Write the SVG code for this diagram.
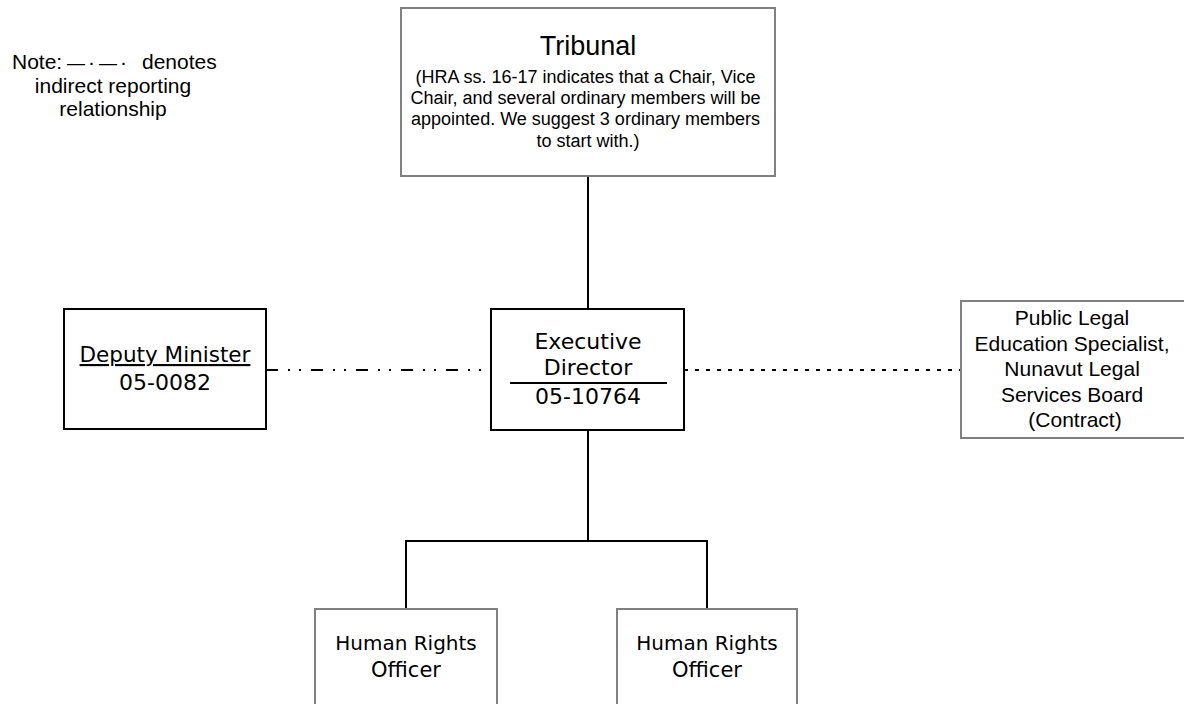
<svg xmlns="http://www.w3.org/2000/svg" width="1184" height="704" viewBox="0 0 1184 704">
<style>
.bg{fill:#ffffff}
.boxk{fill:#ffffff;stroke:#000000;stroke-width:2}
.boxg{fill:#ffffff;stroke:#808080;stroke-width:2}
.conn{fill:none;stroke:#000000;stroke-width:2}
.dashdot{fill:none;stroke:#000000;stroke-width:2;stroke-dasharray:12 10 2 9 2 10}
.dot{fill:none;stroke:#000000;stroke-width:2;stroke-dasharray:4 7}
.sans{font-family:"Liberation Sans",Arial,sans-serif;fill:#000000}
.hand{font-family:"DejaVu Sans",sans-serif;fill:#000000}
</style>
<rect class="bg" x="0" y="0" width="1184" height="704"/>

<g id="note">
<text class="sans" font-size="21" y="69">
<tspan x="12">Note:</tspan><tspan x="67" font-size="18">—</tspan><tspan x="88">·</tspan><tspan x="99" font-size="18">—</tspan><tspan x="120">·</tspan><tspan x="142">denotes</tspan>
</text>
<text class="sans" font-size="21" x="113" y="93" text-anchor="middle">indirect reporting</text>
<text class="sans" font-size="21" x="113" y="116" text-anchor="middle">relationship</text>
</g>

<g id="connectors">
<line class="conn" x1="588" y1="176" x2="588" y2="309"/>
<line class="dashdot" x1="266" y1="370" x2="491" y2="370"/>
<line class="dot" x1="684" y1="370" x2="961" y2="370"/>
<polyline class="conn" points="588,430 588,541"/>
<polyline class="conn" points="406,609 406,541 707,541 707,609"/>
</g>

<g id="tribunal">
<rect class="boxg" x="401" y="8" width="374" height="168"/>
<text class="sans" font-size="27" x="588" y="55" text-anchor="middle">Tribunal</text>
<text class="sans" font-size="18" text-anchor="middle">
<tspan x="588" y="83">(HRA ss. 16-17 indicates that a Chair, Vice</tspan>
<tspan x="588" y="104">Chair, and several ordinary members will be</tspan>
<tspan x="588" y="125">appointed. We suggest 3 ordinary members</tspan>
<tspan x="588" y="147">to start with.)</tspan>
</text>
</g>

<g id="deputy-minister">
<rect class="boxk" x="64" y="309" width="202" height="120"/>
<text class="hand" font-size="21.5" x="165" y="362" text-anchor="middle" text-decoration="underline">Deputy Minister</text>
<text class="hand" font-size="22" x="165" y="390" text-anchor="middle">05-0082</text>
</g>

<g id="executive-director">
<rect class="boxk" x="491" y="309" width="193" height="121"/>
<text class="hand" font-size="22" x="588" y="349" text-anchor="middle">Executive</text>
<text class="hand" font-size="22" x="588" y="375" text-anchor="middle">Director</text>
<line class="conn" x1="510" y1="383" x2="667" y2="383"/>
<text class="hand" font-size="22" x="588" y="404" text-anchor="middle">05-10764</text>
</g>

<g id="public-legal">
<rect class="boxg" x="961" y="301" width="260" height="137"/>
<text class="sans" font-size="21" text-anchor="middle">
<tspan x="1075" y="325">Public Legal</tspan>
<tspan x="1075" y="351">Education Specialist,</tspan>
<tspan x="1075" y="376">Nunavut Legal</tspan>
<tspan x="1075" y="402">Services Board</tspan>
<tspan x="1075" y="427">(Contract)</tspan>
</text>
</g>

<g id="hro-1">
<rect class="boxg" x="315" y="609" width="182" height="120"/>
<text class="hand" font-size="20" x="406" y="650" text-anchor="middle">Human Rights</text>
<text class="hand" font-size="21" x="406" y="677" text-anchor="middle">Officer</text>
</g>

<g id="hro-2">
<rect class="boxg" x="617" y="609" width="180" height="120"/>
<text class="hand" font-size="20" x="707" y="650" text-anchor="middle">Human Rights</text>
<text class="hand" font-size="21" x="707" y="677" text-anchor="middle">Officer</text>
</g>
</svg>
